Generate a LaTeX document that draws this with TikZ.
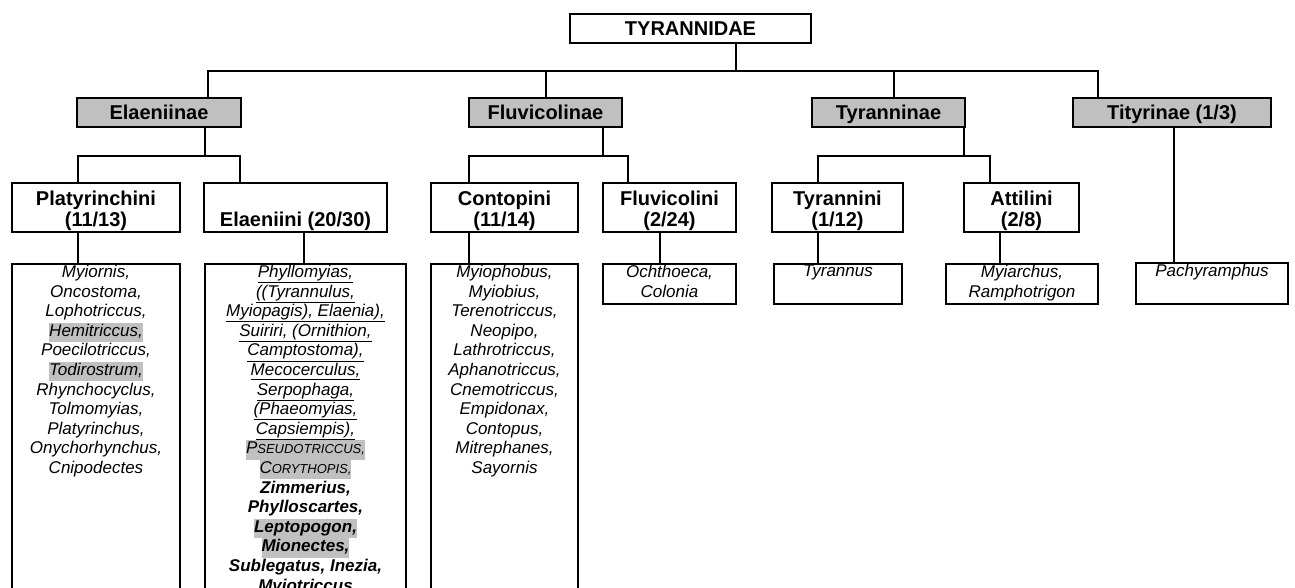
\documentclass[tikz,border=0pt]{standalone}
\usepackage{fontspec}
\setmainfont{Liberation Sans}
\definecolor{hlgrey}{HTML}{C0C0C0}
\newcommand\hlg[1]{{\setlength{\fboxsep}{0pt}\colorbox{hlgrey}{\strut#1}}}
\newcommand\fsc[2]{#1{\fontsize{13}{19.6}\selectfont #2}}
\tikzset{
  conn/.style={line width=2pt},
  hdr/.style={draw, line width=2pt, fill=hlgrey, inner sep=0pt, minimum height=29pt,
    text height=15pt, text depth=0pt,
    font=\fontsize{20}{22}\selectfont\bfseries},
  top/.style={hdr, fill=white},
  tribe/.style={draw, line width=2pt, inner sep=0pt, minimum height=49pt, align=center,
    text height=37pt, text depth=0pt, font=\fontsize{20}{21}\selectfont\bfseries},
  listbox/.style={draw, line width=2pt, inner sep=0pt, anchor=north},
  listtext/.style={inner sep=0pt, anchor=north, align=center,
    font=\fontsize{17}{19.6}\selectfont\itshape},
}
\begin{document}
\begin{tikzpicture}[x=1pt,y=-1pt]
\useasboundingbox (0,0) rectangle (1295,588);
\clip (0,0) rectangle (1295,588);
% top
\node[top, minimum width=241pt] (tyr) at (690.5,28.5) {TYRANNIDAE};
% subfamilies
\node[hdr, minimum width=164pt] (ela) at (159,112.5) {Elaeniinae};
\node[hdr, minimum width=153pt] (flu) at (545.5,112.5) {Fluvicolinae};
\node[hdr, minimum width=153pt] (tyn) at (888.5,112.5) {Tyranninae};
\node[hdr, minimum width=198pt] (tit) at (1172,112.5) {Tityrinae (1/3)};
% tribes
\node[tribe, minimum width=168pt] (pla) at (96,207.5) {Platyrinchini\\(11/13)};
\node[tribe, minimum width=183pt] (elt) at (295.5,207.5) {\vphantom{Pl}\\Elaeniini (20/30)};
\node[tribe, minimum width=147pt] (con) at (504.5,207.5) {Contopini\\(11/14)};
\node[tribe, minimum width=133pt] (fvi) at (669.5,207.5) {Fluvicolini\\(2/24)};
\node[tribe, minimum width=131pt] (tyi) at (837.5,207.5) {Tyrannini\\(1/12)};
\node[tribe, minimum width=115pt] (att) at (1021.5,207.5) {Attilini\\(2/8)};
% list boxes
\node[listbox, minimum width=168pt, minimum height=400pt] (lpl) at (96,263) {};
\node[listbox, minimum width=201pt, minimum height=400pt] (lel) at (305.5,263) {};
\node[listbox, minimum width=147pt, minimum height=400pt] (lco) at (504.5,263) {};
\node[listbox, minimum width=133pt, minimum height=40pt] (lfv) at (669.5,263) {};
\node[listbox, minimum width=128pt, minimum height=40pt] (lty) at (838,263) {};
\node[listbox, minimum width=152pt, minimum height=40pt] (lat) at (1022,263) {};
\node[listbox, minimum width=152pt, minimum height=41pt] (lpa) at (1212,262) {};
% list texts
\node[listtext] (tpl) at ([yshift=-2pt]lpl.north) {Myiornis,\\Oncostoma,\\Lophotriccus,\\\hlg{Hemitriccus,}\\Poecilotriccus,\\\hlg{Todirostrum,}\\Rhynchocyclus,\\Tolmomyias,\\Platyrinchus,\\Onychorhynchus,\\Cnipodectes};
\node[listtext] (tel) at ([yshift=-2pt]lel.north) {\underline{Phyllomyias,}\\\underline{((Tyrannulus,}\\\underline{Myiopagis), Elaenia),}\\\underline{Suiriri, (Ornithion,}\\\underline{Camptostoma),}\\\underline{Mecocerculus,}\\\underline{Serpophaga,}\\\underline{(Phaeomyias,}\\\underline{Capsiempis),}\\\hlg{\fsc{P}{SEUDOTRICCUS,}}\\\hlg{\fsc{C}{ORYTHOPIS,}}\\\textbf{Zimmerius,}\\\textbf{Phylloscartes,}\\\hlg{\textbf{Leptopogon,}}\\\hlg{\textbf{Mionectes,}}\\\textbf{Sublegatus, Inezia,}\\\textbf{Myiotriccus}};
\node[listtext] (tco) at ([yshift=-2pt]lco.north) {Myiophobus,\\Myiobius,\\Terenotriccus,\\Neopipo,\\Lathrotriccus,\\Aphanotriccus,\\Cnemotriccus,\\Empidonax,\\Contopus,\\Mitrephanes,\\Sayornis};
\node[listtext] (tfv) at ([yshift=-2pt]lfv.north) {Ochthoeca,\\Colonia};
\node[listtext] (tty) at ([yshift=-2pt]lty.north) {Tyrannus};
\node[listtext] (tat) at ([yshift=-2pt]lat.north) {Myiarchus,\\Ramphotrigon};
\node[listtext] (tpa) at ([yshift=-2pt]lpa.north) {Pachyramphus};
% level 1 connectors
\coordinate (j0) at (736,71);
\coordinate (jL) at (208,71);
\coordinate (jR) at (1098,71);
\coordinate (jF) at (546,71);
\coordinate (jT) at (894,71);
\draw[conn] (tyr.south -| j0) -- (j0);
\draw[conn] (ela.north -| jL) -- (jL) -- (jR) -- (tit.north -| jR);
\draw[conn] (jF) -- (flu.north -| jF);
\draw[conn] (jT) -- (tyn.north -| jT);
% level 2 connectors
\coordinate (e0) at (205,156);
\coordinate (eL) at (78,156);
\coordinate (eR) at (240,156);
\draw[conn] (ela.south -| e0) -- (e0);
\draw[conn] (pla.north -| eL) -- (eL) -- (eR) -- (elt.north -| eR);
\coordinate (f0) at (603,156);
\coordinate (fL) at (469,156);
\coordinate (fR) at (628,156);
\draw[conn] (flu.south -| f0) -- (f0);
\draw[conn] (con.north -| fL) -- (fL) -- (fR) -- (fvi.north -| fR);
\coordinate (t0) at (964,156);
\coordinate (tL) at (818,156);
\coordinate (tR) at (990,156);
\draw[conn] (tyn.south -| t0) -- (t0);
\draw[conn] (tyi.north -| tL) -- (tL) -- (tR) -- (att.north -| tR);
\coordinate (p0) at (1174,200);
\draw[conn] (tit.south -| p0) -- (lpa.north -| p0);
% level 3 connectors
\coordinate (c1) at (78,250);
\coordinate (c2) at (304,250);
\coordinate (c3) at (469,250);
\coordinate (c4) at (660,250);
\coordinate (c5) at (818,250);
\coordinate (c6) at (1000,250);
\draw[conn] (pla.south -| c1) -- (lpl.north -| c1);
\draw[conn] (elt.south -| c2) -- (lel.north -| c2);
\draw[conn] (con.south -| c3) -- (lco.north -| c3);
\draw[conn] (fvi.south -| c4) -- (lfv.north -| c4);
\draw[conn] (tyi.south -| c5) -- (lty.north -| c5);
\draw[conn] (att.south -| c6) -- (lat.north -| c6);
\end{tikzpicture}
\end{document}
